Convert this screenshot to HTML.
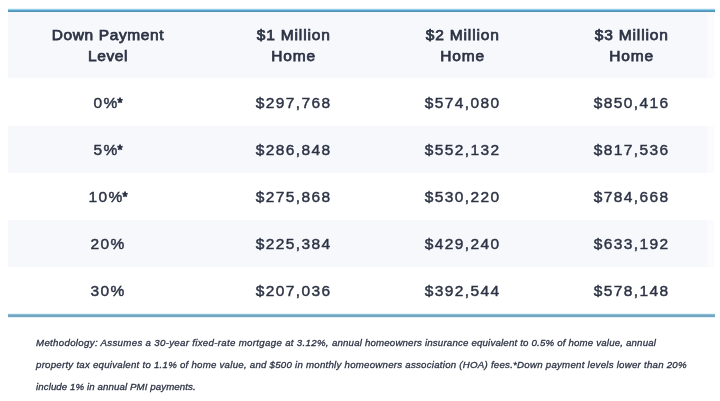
<!DOCTYPE html>
<html lang="en">
<head>
<meta charset="utf-8">
<title>Down Payment Table</title>
<style>
html,body{margin:0;padding:0;background:#fff;}
body{width:720px;height:401px;overflow:hidden;position:relative;font-family:"Liberation Sans",Arial,sans-serif;color:#2c3344;filter:blur(0.4px);}
.ln{position:absolute;left:8px;width:707px;height:5px;}
.ln.t{background:linear-gradient(to bottom,#eaf6fa 0,#eaf6fa 1px,#96cde6 1px,#96cde6 2px,#5aa5cd 2px,#5aa5cd 3px,#5091b4 3px,#5091b4 4px,#e4f1f6 4px);}
.ln.b{background:linear-gradient(to bottom,#e6f3f7 0,#e6f3f7 1px,#8fbdd3 1px,#8fbdd3 2px,#6fa5c3 2px,#6fa5c3 3px,#78a9c2 3px,#78a9c2 4px,#dcedf3 4px);}
.band{position:absolute;left:8px;width:706px;background:linear-gradient(to right,#f7f8fc 0,#f7f8fc 699px,#fbfbfd 699px);}
.row{position:absolute;left:8px;width:707px;display:flex;}
.c{text-align:center;width:169px;font-size:15.5px;letter-spacing:1.4px;line-height:21px;-webkit-text-stroke:0.45px #2c3344;}
.c{position:relative;left:1.2px;}
.c.a{width:200px;left:0;}
.as{position:relative;top:-1.2px;left:0;margin-left:-1.2px;font-size:13px;letter-spacing:0;-webkit-text-stroke:0.9px #2c3344;}
.h .c{letter-spacing:0.85px;-webkit-text-stroke:0.75px #2c3344;}
.h .c.a{letter-spacing:0.62px;}
#note{position:absolute;left:36px;top:331.5px;width:680px;font-size:9.7px;letter-spacing:0.24px;line-height:22px;font-style:italic;white-space:nowrap;-webkit-text-stroke:0.3px #2c3344;}
</style>
</head>
<body>
<div class="ln t" style="top:8px"></div>
<div class="band" style="top:12px;height:66px"></div>
<div class="band" style="top:126px;height:47px"></div>
<div class="band" style="top:220px;height:47px"></div>
<div class="ln b" style="top:313px"></div>

<div class="row h" style="top:24px"><div class="c a">Down Payment<br>Level</div><div class="c">$1 Million<br>Home</div><div class="c">$2 Million<br>Home</div><div class="c">$3 Million<br>Home</div></div>
<div class="row" style="top:92px"><div class="c a">0%<span class="as">*</span></div><div class="c">$297,768</div><div class="c">$574,080</div><div class="c">$850,416</div></div>
<div class="row" style="top:139px"><div class="c a">5%<span class="as">*</span></div><div class="c">$286,848</div><div class="c">$552,132</div><div class="c">$817,536</div></div>
<div class="row" style="top:186px"><div class="c a">10%<span class="as">*</span></div><div class="c">$275,868</div><div class="c">$530,220</div><div class="c">$784,668</div></div>
<div class="row" style="top:233px"><div class="c a">20%</div><div class="c">$225,384</div><div class="c">$429,240</div><div class="c">$633,192</div></div>
<div class="row" style="top:280px"><div class="c a">30%</div><div class="c">$207,036</div><div class="c">$392,544</div><div class="c">$578,148</div></div>

<div id="note"><span style="letter-spacing:0.31px">Methodology: Assumes a 30-year fixed-rate mortgage at 3.12%, </span><span style="letter-spacing:0.175px">annual homeowners insurance equivalent to 0.5% of home value, annual</span><br>property tax equivalent to 1.1% of home value, and $500 in monthly homeowners association (HOA) fees.*Down payment levels lower than 20%<br><span style="letter-spacing:0.09px">include 1% in annual PMI payments.</span></div>
</body>
</html>
